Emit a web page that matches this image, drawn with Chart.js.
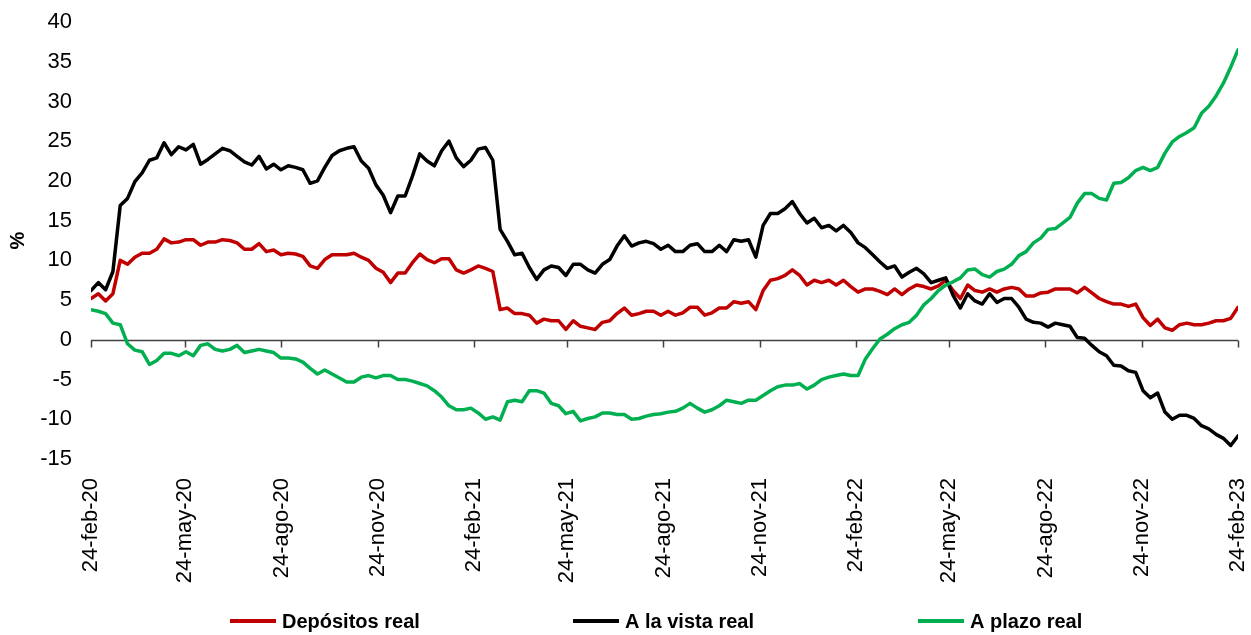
<!DOCTYPE html>
<html lang="es">
<head>
<meta charset="utf-8">
<title>Depósitos reales</title>
<script src="https://cdn.jsdelivr.net/npm/chart.js@4.4.1/dist/chart.umd.min.js"></script>
<style>
  html, body { margin: 0; padding: 0; background: #fff; }
  #contenedor { width: 1251px; height: 635px; }
</style>
</head>
<body>
<div id="contenedor"><canvas id="MiGrafica"></canvas></div>
<script>
// Variación real anual (%), datos semanales del 24-feb-20 al 24-feb-23
const depositosReal = [
  5.2, 5.8, 4.9, 5.8, 10.0, 9.5, 10.4, 10.9, 10.9, 11.4,
  12.7, 12.2, 12.3, 12.6, 12.6, 11.9, 12.3, 12.3, 12.6, 12.5,
  12.2, 11.4, 11.4, 12.1, 11.1, 11.3, 10.7, 10.9, 10.8, 10.5,
  9.3, 9.0, 10.1, 10.7, 10.7, 10.7, 10.9, 10.4, 10.0, 9.0,
  8.5, 7.2, 8.4, 8.4, 9.7, 10.8, 10.1, 9.7, 10.2, 10.2,
  8.8, 8.4, 8.8, 9.3, 9.0, 8.6, 3.8, 4.0, 3.3, 3.3,
  3.1, 2.1, 2.6, 2.4, 2.4, 1.3, 2.4, 1.7, 1.5, 1.3,
  2.2, 2.4, 3.3, 4.0, 3.1, 3.3, 3.6, 3.6, 3.1, 3.6,
  3.1, 3.4, 4.1, 4.1, 3.1, 3.4, 4.0, 4.0, 4.8, 4.6,
  4.8, 3.8, 6.2, 7.5, 7.7, 8.1, 8.8, 8.1, 6.9, 7.5,
  7.2, 7.5, 6.9, 7.5, 6.7, 6.0, 6.4, 6.4, 6.1, 5.7,
  6.4, 5.7, 6.4, 6.9, 6.7, 6.4, 6.8, 7.5, 6.2, 5.2,
  6.9, 6.2, 6.0, 6.4, 6.0, 6.4, 6.6, 6.4, 5.5, 5.5,
  5.9, 6.0, 6.4, 6.4, 6.4, 5.9, 6.6, 5.9, 5.2, 4.8,
  4.5, 4.5, 4.2, 4.5, 2.8, 1.8, 2.6, 1.5, 1.2, 1.9,
  2.1, 1.9, 1.9, 2.1, 2.4, 2.4, 2.7, 4.1
];

const vistaReal = [
  6.2, 7.2, 6.3, 8.6, 16.9, 17.8, 19.9, 21.0, 22.6, 22.9,
  24.8, 23.3, 24.3, 23.9, 24.6, 22.1, 22.7, 23.4, 24.1, 23.8,
  23.1, 22.4, 22.0, 23.1, 21.5, 22.1, 21.4, 21.9, 21.7, 21.4,
  19.7, 20.0, 21.7, 23.2, 23.8, 24.1, 24.3, 22.5, 21.6, 19.5,
  18.2, 16.0, 18.1, 18.1, 20.6, 23.4, 22.5, 21.9, 23.8, 25.0,
  22.9, 21.8, 22.6, 24.0, 24.2, 22.6, 13.9, 12.4, 10.7, 10.9,
  9.1, 7.6, 8.8, 9.3, 9.1, 8.1, 9.5, 9.5, 8.8, 8.4,
  9.5, 10.1, 11.8, 13.1, 11.8, 12.2, 12.4, 12.1, 11.4, 11.9,
  11.1, 11.1, 11.9, 12.1, 11.1, 11.1, 11.9, 11.1, 12.6, 12.4,
  12.6, 10.4, 14.4, 15.9, 15.9, 16.5, 17.4, 15.9, 14.7, 15.3,
  14.1, 14.4, 13.7, 14.4, 13.5, 12.2, 11.6, 10.7, 9.8, 9.0,
  9.3, 7.9, 8.5, 9.0, 8.3, 7.2, 7.5, 7.8, 5.6, 4.0,
  5.8, 4.9, 4.5, 5.8, 4.7, 5.2, 5.2, 4.1, 2.6, 2.2,
  2.1, 1.6, 2.1, 1.9, 1.7, 0.3, 0.2, -0.7, -1.5, -2.0,
  -3.2, -3.3, -3.9, -4.1, -6.4, -7.3, -6.7, -9.1, -10.0, -9.5,
  -9.5, -9.9, -10.8, -11.2, -11.9, -12.4, -13.3, -12.1
];

const plazoReal = [
  3.8, 3.6, 3.3, 2.1, 1.9, -0.5, -1.3, -1.5, -3.1, -2.6,
  -1.7, -1.7, -2.0, -1.5, -2.0, -0.7, -0.5, -1.2, -1.4, -1.2,
  -0.7, -1.6, -1.4, -1.2, -1.4, -1.6, -2.3, -2.3, -2.4, -2.8,
  -3.6, -4.3, -3.8, -4.3, -4.8, -5.3, -5.3, -4.7, -4.5, -4.8,
  -4.5, -4.5, -5.0, -5.0, -5.2, -5.5, -5.8, -6.4, -7.2, -8.3,
  -8.8, -8.8, -8.6, -9.2, -10.0, -9.7, -10.1, -7.8, -7.6, -7.8,
  -6.4, -6.4, -6.7, -8.0, -8.3, -9.3, -9.0, -10.2, -9.9, -9.7,
  -9.2, -9.2, -9.4, -9.4, -10.0, -9.9, -9.6, -9.4, -9.3, -9.1,
  -9.0, -8.6, -8.0, -8.6, -9.1, -8.8, -8.3, -7.6, -7.8, -8.0,
  -7.6, -7.6, -7.0, -6.4, -5.9, -5.7, -5.7, -5.5, -6.2, -5.7,
  -5.0, -4.7, -4.5, -4.3, -4.5, -4.5, -2.4, -1.1, 0.1, 0.7,
  1.4, 1.9, 2.2, 3.1, 4.4, 5.2, 6.2, 6.9, 7.3, 7.8,
  8.8, 8.9, 8.2, 7.9, 8.6, 8.9, 9.5, 10.6, 11.1, 12.2,
  12.8, 13.9, 14.0, 14.7, 15.4, 17.2, 18.4, 18.4, 17.8, 17.6,
  19.7, 19.8, 20.4, 21.3, 21.7, 21.3, 21.7, 23.5, 24.9, 25.6,
  26.1, 26.7, 28.5, 29.4, 30.7, 32.3, 34.3, 36.5
];

const nombresSeries = ["Depósitos real", "A la vista real", "A plazo real"];
const coloresSeries = ["#C00000", "#000000", "#00B050"];

// Marcas del eje X: días transcurridos desde el 24-feb-20 y su etiqueta
const diasMarcas = [0, 90, 182, 274, 366, 455, 547, 639, 731, 820, 912, 1004, 1096];
const etiquetasMarcas = ["24-feb-20", "24-may-20", "24-ago-20", "24-nov-20", "24-feb-21", "24-may-21",
  "24-ago-21", "24-nov-21", "24-feb-22", "24-may-22", "24-ago-22", "24-nov-22", "24-feb-23"];

// cada observación se ubica en su fecha (días desde el inicio)
const diasTotales = diasMarcas[diasMarcas.length - 1];
const aPuntos = serie => serie.map((v, i) => ({ x: i * diasTotales / (serie.length - 1), y: v }));

Chart.defaults.font.family = "'Liberation Sans', Arial, sans-serif";
Chart.defaults.color = "#000";

// Eje horizontal en el cero con sus marcas hacia abajo
const ejeCero = {
  id: "ejeCero",
  beforeDatasetsDraw(chart) {
    const { ctx, chartArea, scales } = chart;
    const y0 = Math.round(scales.y.getPixelForValue(0)) + 0.5;
    ctx.save();
    ctx.strokeStyle = "#404040";
    ctx.lineWidth = 1.5;
    ctx.beginPath();
    ctx.moveTo(chartArea.left, y0);
    ctx.lineTo(chartArea.right, y0);
    diasMarcas.forEach(d => {
      const px = Math.round(scales.x.getPixelForValue(d)) + 0.5;
      ctx.moveTo(px, y0);
      ctx.lineTo(px, y0 + 7);
    });
    ctx.stroke();
    ctx.restore();
  }
};

// Leyenda al pie, con las tres entradas repartidas como en el original
const leyendaPie = {
  id: "leyendaPie",
  afterDraw(chart) {
    const ctx = chart.ctx;
    const yLeyenda = 621;
    const inicios = [230, 573, 918];
    ctx.save();
    ctx.font = "bold 20px 'Liberation Sans', Arial, sans-serif";
    ctx.textBaseline = "middle";
    ctx.fillStyle = "#000";
    nombresSeries.forEach((nombre, i) => {
      ctx.strokeStyle = coloresSeries[i];
      ctx.lineWidth = 4;
      ctx.beginPath();
      ctx.moveTo(inicios[i], yLeyenda);
      ctx.lineTo(inicios[i] + 46, yLeyenda);
      ctx.stroke();
      ctx.fillText(nombre, inicios[i] + 52, yLeyenda + 1);
    });
    ctx.restore();
  }
};

const series = [depositosReal, vistaReal, plazoReal];

const miCanvas = document.getElementById("MiGrafica").getContext("2d");

const chart = new Chart(miCanvas, {
  type: "line",
  data: {
    datasets: series.map((serie, i) => ({
      label: nombresSeries[i],
      data: aPuntos(serie),
      borderColor: coloresSeries[i],
      backgroundColor: coloresSeries[i],
      borderWidth: 3.5,
      borderJoinStyle: "round",
      borderCapStyle: "round",
      pointRadius: 0,
      tension: 0,
      order: 3 - i
    }))
  },
  options: {
    responsive: true,
    maintainAspectRatio: false,
    animation: false,
    layout: {
      padding: { top: 22, right: 13, bottom: 0, left: 0 }
    },
    plugins: {
      legend: { display: false },
      tooltip: { enabled: false }
    },
    scales: {
      x: {
        type: "linear",
        min: 0,
        max: diasTotales,
        grid: { display: false, drawTicks: false },
        border: { display: false },
        afterBuildTicks: scale => {
          scale.ticks = diasMarcas.map(d => ({ value: d }));
        },
        afterFit: scale => {
          scale.height = 176;
          scale.paddingLeft = 0;
          scale.paddingRight = 0;
        },
        ticks: {
          autoSkip: false,
          minRotation: 90,
          maxRotation: 90,
          padding: 19,
          font: { size: 22 },
          callback: value => etiquetasMarcas[diasMarcas.indexOf(value)]
        }
      },
      y: {
        min: -15,
        max: 40,
        grid: { display: false, drawTicks: false },
        border: { display: false },
        afterFit: scale => {
          scale.width = 91;
          scale.paddingTop = 0;
          scale.paddingBottom = 0;
        },
        ticks: {
          stepSize: 5,
          padding: 19,
          font: { size: 22 }
        },
        title: {
          display: true,
          text: "%",
          font: { size: 20, weight: "bold" },
          padding: { top: 6, bottom: 4 }
        }
      }
    }
  },
  plugins: [ejeCero, leyendaPie]
});
</script>
</body>
</html>
